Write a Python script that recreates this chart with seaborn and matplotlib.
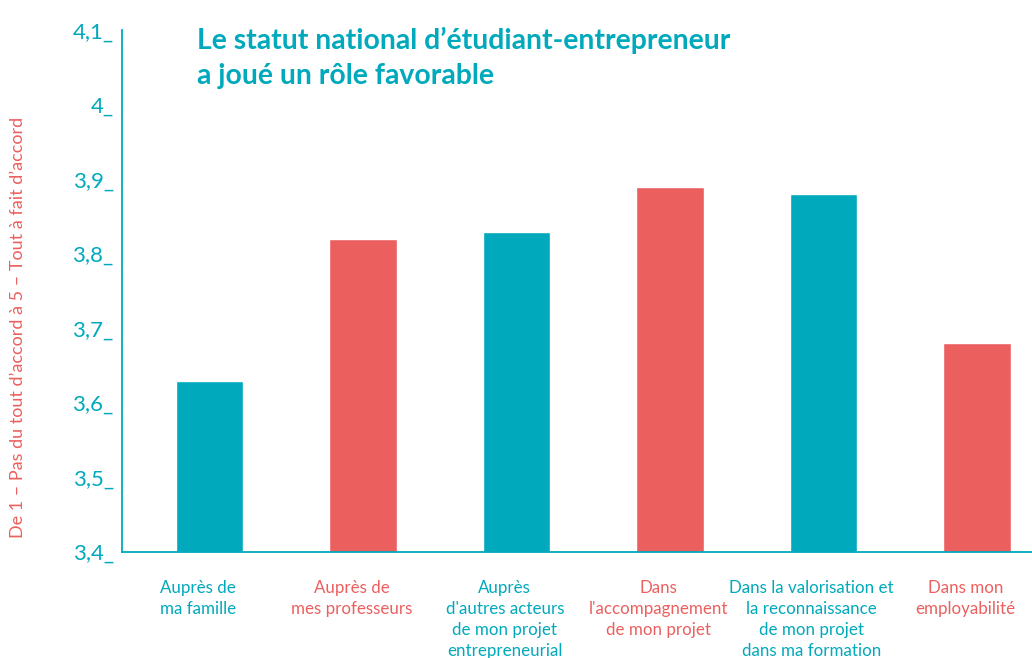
# %%
import numpy as np
import pandas as pd
import seaborn as sns
import matplotlib.pyplot as plt

# %%
categories = ["Auprès de\nma famille",
              "Auprès de\nmes professeurs",
              "Auprès\nd'autres acteurs\nde mon projet\nentrepreneurial",
              "Dans\nl'accompagnement\nde mon projet",
              "Dans la valorisation et\nla reconnaissance\nde mon projet\ndans ma formation",
              "Dans mon\nemployabilité"]
values = [3.63, 3.82, 3.83, 3.89, 3.88, 3.68]
y_ticks = [3.4, 3.5, 3.6, 3.7, 3.8, 3.9, 4.0, 4.1]
y_tick_labels = ["3,4_", "3,5_", "3,6_", "3,7_", "3,8_", "3,9_", "4_", "4,1_"]

teal = "#00A9BC"
red = "#EB605F"
bar_colors = [teal, red, teal, red, teal, red]

df = pd.DataFrame({"cat": categories, "val": values})

sns.set_theme(style="white")
plt.rcParams["font.family"] = ["Lato", "DejaVu Sans"]

fig = plt.figure(figsize=(10.32, 6.58), dpi=100)
ax = fig.add_axes([0.1182, 0.161, 0.8818, 0.793])

sns.barplot(data=df, x="cat", y="val", hue="cat", palette=bar_colors,
            width=0.44, legend=False, ax=ax, saturation=1)

ax.set_ylim(3.4, 4.1)
ax.set_xlim(-0.57, 5.36)

# y axis: labels carry their own "_" tick
ax.set_yticks(y_ticks)
ax.set_yticklabels(y_tick_labels, fontsize=16, color=teal)
ax.tick_params(axis="y", length=0, pad=6)

# x axis: labels slightly left of bars, small upward separators
pos = np.arange(len(categories))
ax.set_xticks(pos - 0.075)
ax.set_xticklabels(categories, fontsize=12.2, linespacing=1.38)
for lab, c in zip(ax.get_xticklabels(), bar_colors):
    lab.set_color(c)
ax.tick_params(axis="x", length=0, pad=20)
ax.set_xticks(pos[:-1] + 0.427, minor=True)
ax.tick_params(axis="x", which="minor", direction="in", length=12,
               width=1, color=teal)
ax.set_xlabel("")

for side in ["top", "right"]:
    ax.spines[side].set_visible(False)
for side in ["left", "bottom"]:
    ax.spines[side].set_color(teal)
    ax.spines[side].set_linewidth(1.3)

ax.set_ylabel("De 1 – Pas du tout d’accord à 5 – Tout à fait d’accord",
              color=red, fontsize=13)
ax.yaxis.set_label_coords(-0.105, 0.431)

ax.text(0.0824, 1.006, "Le statut national d’étudiant-entrepreneur\na joué un rôle favorable",
        transform=ax.transAxes, ha="left", va="top", fontsize=20.4,
        fontweight="bold", color=teal, linespacing=1.4)

plt.savefig("out.png", dpi=100)
# %%
